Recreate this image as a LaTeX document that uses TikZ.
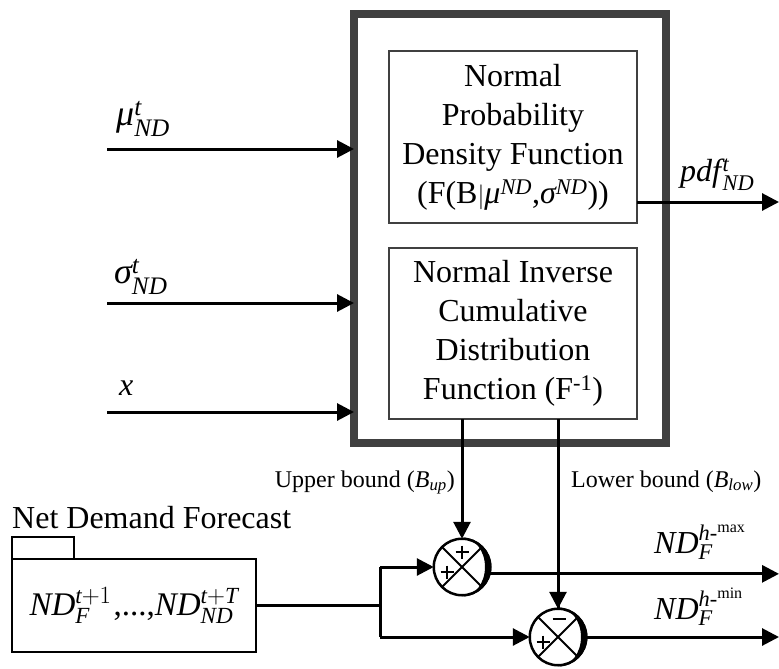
\documentclass[tikz,border=0pt]{standalone}
\usepackage{amsmath}
\usepackage{fontspec}
\setmainfont{Liberation Serif}
\usetikzlibrary{arrows.meta,calc}
\newcommand\mi[1]{\textit{#1}}
\newcommand\crescentat[1]{\fill ($(#1)+(0,-29.5)$) arc[start angle=-90,end angle=90,radius=29.5] arc[start angle=90,end angle=-90,x radius=23,y radius=29.5];}
\newcommand\plusat[1]{\draw[line width=2.5pt] ($#1$) +(-6.5,0) -- +(6.5,0) +(0,-6.5) -- +(0,6.5);}
\newcommand\minusat[1]{\draw[line width=2.5pt] ($#1$) +(-6.5,0) -- +(6.5,0);}
\begin{document}
\begin{tikzpicture}[x=1pt,y=-1pt,
  wire/.style={line width=3pt},
  arr/.style={wire,-{Triangle[length=17pt,width=17pt]}},
  fnbox/.style={draw=black!75,line width=2.5pt,minimum width=248pt,align=center,inner sep=0pt,outer sep=0pt,font=\fontsize{32}{39}\selectfont},
  sumc/.style={circle,draw,line width=2.5pt,minimum size=56.5pt,inner sep=0pt,outer sep=0pt,fill=white},
  lbl/.style={inner sep=0pt,font=\fontsize{32}{39}\selectfont},
  biglbl/.style={inner sep=0pt,font=\fontsize{36}{40}\selectfont},
  smlbl/.style={inner sep=0pt,font=\fontsize{24}{28}\selectfont},
]
\useasboundingbox (0,0) rectangle (779,669);
% outer block
\node[draw=black!75,line width=7.5pt,minimum width=312pt,minimum height=429pt,inner sep=0pt,outer sep=0pt] (o) at (510,228.5) {};
\node[fnbox,minimum height=172pt] (b1) at (513,137) {Normal\\Probability\\Density Function\\(F(B$|\mi{μ}^{\mi{ND}}$,$\mi{σ}^{\mi{ND}}$))};
\node[fnbox,minimum height=171pt] (b2) at (513,333.5) {Normal Inverse\\Cumulative\\Distribution\\Function (F$^{\text{-1}}$)};
% inputs
\coordinate (in1) at (107,149);
\coordinate (in2) at (107,303);
\coordinate (in3) at (107,412);
\draw[arr] (in1) -- (in1 -| o.west);
\draw[arr] (in2) -- (in2 -| o.west);
\draw[arr] (in3) -- (in3 -| o.west);
\node[biglbl,anchor=base west] (lmu) at (116,125) {$\mi{μ}^{\mi{t}}_{\mi{ND}}$};
\node[biglbl,anchor=base west] (lsig) at (114,283) {$\mi{σ}^{\mi{t}}_{\mi{ND}}$};
\node[lbl,anchor=base west] (lx) at (119,395) {\mi{x}};
% pdf output
\coordinate (pe) at (779,202);
\draw[arr] (pe -| b1.east) -- (pe);
\node[lbl,anchor=base west] (lpdf) at (680,181) {$\mi{pdf}\kern1.5pt^{\mi{t}}_{\mi{ND}}$};
% summing junctions
\node[sumc] (c1) at (462,567) {};
\node[sumc] (c2) at (558,637) {};
\crescentat{c1}
\crescentat{c2}
\draw[line width=2pt] (c1.45) -- (c1.225) (c1.135) -- (c1.315);
\draw[line width=2pt] (c2.45) -- (c2.225) (c2.135) -- (c2.315);
\plusat{(c1)+(0,-15)}
\plusat{(c1)+(-15,5)}
\minusat{(c2)+(1,-18)}
\plusat{(c2)+(-15,5)}
% bounds
\draw[arr] (b2.south -| c1) -- (c1.north);
\draw[arr] (b2.south -| c2) -- (c2.north);
\node[smlbl,anchor=base east] (lub) at (455,487) {Upper bound ($\mi{B}_{\mi{up}}$)};
\node[smlbl,anchor=base west] (llb) at (571,487) {Lower bound ($\mi{B}_{\mi{low}}$)};
% forecast
\node[lbl,anchor=base west] (ndf) at (12,528) {Net Demand Forecast};
\node[draw,line width=2.5pt,minimum width=244pt,minimum height=93pt,inner sep=0pt,outer sep=0pt,font=\fontsize{33}{39}\selectfont] (fb) at (134,605.5) {$\mi{ND}^{\mi{t}+1}_{\mi{F}}$\kern2pt,...,$\mi{ND}^{\mi{t}+\mi{T}}_{\mi{ND}}$};
\draw[line width=2.5pt] (fb.north west) rectangle ($(fb.north west)+(62,-22)$);
\coordinate (jx) at (380,0);
\draw[wire] (fb.east) -- (fb.east -| jx);
\draw[wire] (jx |- c1.west) -- (jx |- c2.west);
\draw[arr] (jx |- c1.west) -- (c1.west);
\draw[arr] (jx |- c2.west) -- (c2.west);
% outputs
\coordinate (oe) at (779,0);
\draw[arr] (c1.-14) -- (c1.-14 -| oe);
\draw[arr] (c2.east) -- (c2.east -| oe);
\draw[wire] (b2.south -| c2) -- (c2.north);
\node[lbl,anchor=base west] (lmax) at (654,553) {$\mi{ND}^{\mi{h}\text{-}^{\text{max}}}_{\mi{F}}$};
\node[lbl,anchor=base west] (lmin) at (654,619) {$\mi{ND}^{\mi{h}\text{-}^{\text{min}}}_{\mi{F}}$};
\end{tikzpicture}
\end{document}
